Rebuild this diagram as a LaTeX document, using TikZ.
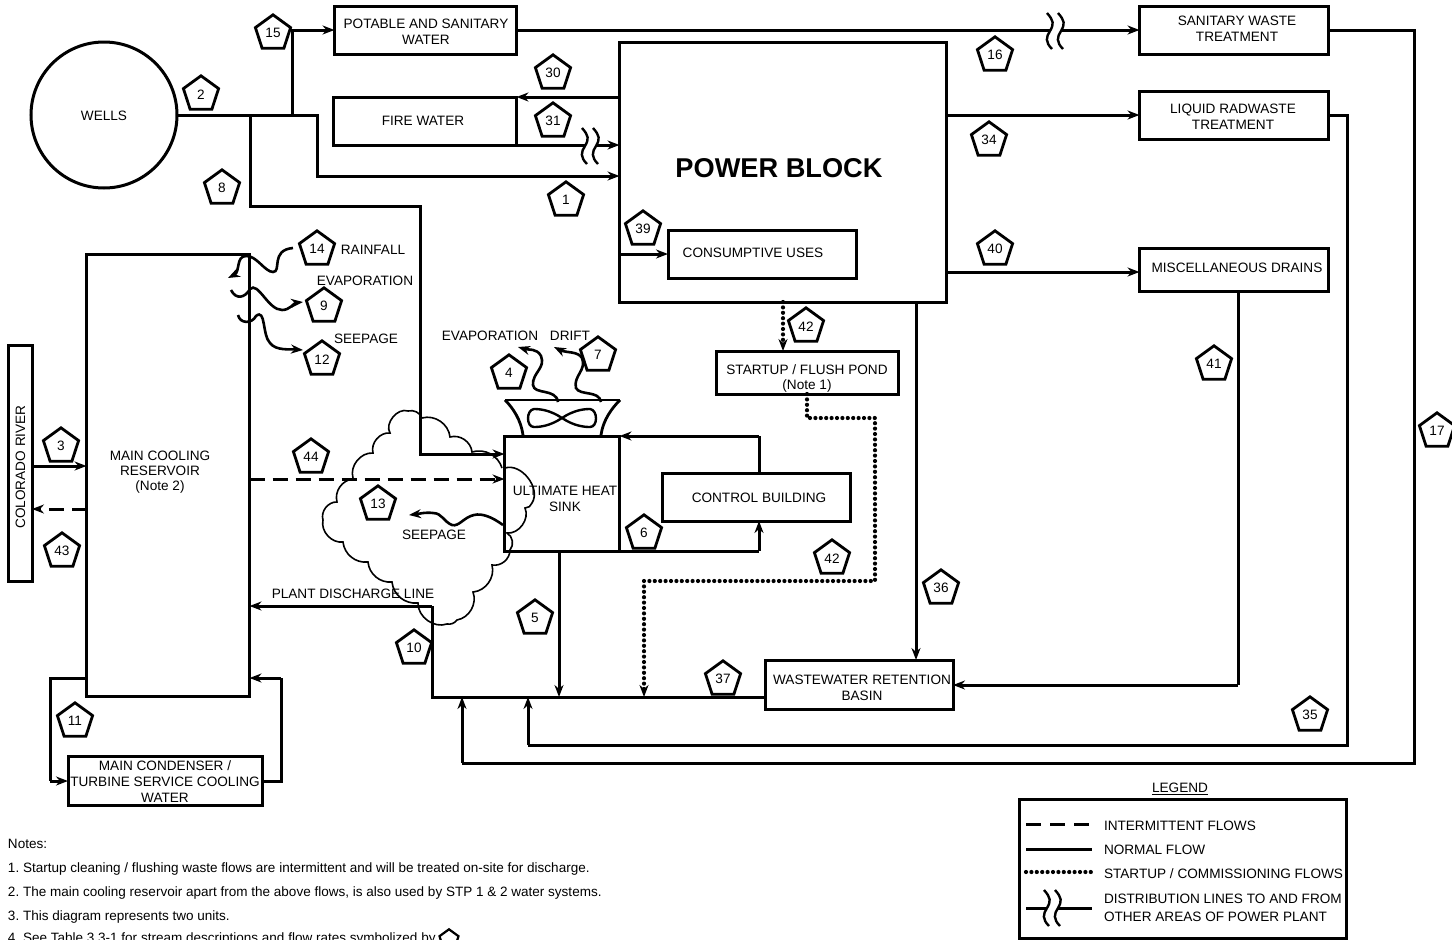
\documentclass[tikz,border=0pt]{standalone}
\usepackage{fontspec}
\setmainfont{Liberation Sans}
\frenchspacing
\usetikzlibrary{arrows.meta,shapes.geometric}
\tikzset{
  x=1pt,y=-1pt,
  ln/.style={line width=3pt,line join=miter},
  box/.style={ln,draw,fill=none,rectangle,inner sep=0pt,outer sep=0pt,align=center,font=\fontsize{13.6}{16}\selectfont},
  lbl/.style={inner sep=0pt,outer sep=0pt,align=center,yshift=-1pt,font=\fontsize{13.6}{16}\selectfont},
  flow/.style={ln,-{Stealth[length=12pt,width=9pt]}},
  plain/.style={ln},
  dashflow/.style={ln,dash pattern=on 15pt off 8pt,-{Stealth[length=12pt,width=9pt]}},
  dotflow/.style={line width=4.2pt,line cap=round,dash pattern=on 0pt off 5.4pt,-{Stealth[length=12pt,width=9pt]}},
  wave/.style={line width=2.6pt,-{Stealth[length=12pt,width=9pt]}},
  penta/.style={draw,line width=2.8pt,regular polygon,regular polygon sides=5,minimum size=37pt,inner sep=0pt,outer sep=0pt,fill=white,yshift=-0.3pt,font=\fontsize{13.6}{14}\selectfont},
  cloudline/.style={line width=1.6pt},
  note/.style={inner sep=0pt,outer sep=0pt,anchor=base west,font=\fontsize{13.52}{15}\selectfont},
  brk/.pic={
    \fill[white] (-5,-3.5) rectangle (6,3.5);
    \draw[line width=2.4pt] (-8,-18) .. controls (-1,-10) and (-1,-7) .. (-5,0) .. controls (-9,6) and (-10,11) .. (-3,18);
    \draw[line width=2.4pt] (3,-18) .. controls (10,-10) and (10,-7) .. (6,0) .. controls (2,6) and (1,11) .. (8,18);
  }
}
\begin{document}
\begin{tikzpicture}
\path[use as bounding box] (0,0) rectangle (1452,940);
\clip (0,0) rectangle (1452,940);
% boxes
\node[box,circle,minimum size=146pt] (wells) at (104,115) {};
\node[lbl] (wellsT) at (104,115) {WELLS};
\node[box,minimum width=182pt,minimum height=48pt] (potable) at (425.5,30) {};
\node[lbl] (potableT) at (426,31) {POTABLE AND SANITARY\\WATER};
\node[box,minimum width=183pt,minimum height=48pt] (fire) at (425,121) {};
\node[lbl] (fireT) at (423,120) {FIRE WATER};
\node[box,minimum width=327pt,minimum height=260pt] (power) at (783,172) {};
\node[lbl,font=\bfseries\fontsize{27.2}{30}\selectfont] (powerT) at (779,167) {POWER BLOCK};
\node[box,minimum width=188pt,minimum height=48pt] (cons) at (762,254) {};
\node[lbl] (consT) at (753,252) {CONSUMPTIVE USES};
\node[box,minimum width=189pt,minimum height=48pt] (sanitary) at (1234,30) {};
\node[lbl] (sanitaryT) at (1237,28) {SANITARY WASTE\\TREATMENT};
\node[box,minimum width=189pt,minimum height=48pt] (liquid) at (1234,115) {};
\node[lbl] (liquidT) at (1233,115.5) {LIQUID RADWASTE\\TREATMENT};
\node[box,minimum width=189pt,minimum height=43pt] (misc) at (1234,269.5) {};
\node[lbl] (miscT) at (1237,266.5) {MISCELLANEOUS DRAINS};
\node[box,minimum width=182pt,minimum height=43pt] (startup) at (807,372.5) {};
\node[lbl] (startupT) at (807,377.5) {STARTUP / FLUSH POND\\[-1pt](Note 1)};
\node[box,minimum width=163pt,minimum height=442pt] (main) at (168,475) {};
\node[lbl,font=\fontsize{13.6}{15}\selectfont] (mainT) at (160,471.5) {MAIN COOLING\\RESERVOIR\\(Note 2)};
\node[box,minimum width=24pt,minimum height=236pt] (river) at (20,463) {};
\node[lbl,rotate=90,yshift=0pt] (riverT) at (20.5,466) {COLORADO RIVER};
\node[box,minimum width=115pt,minimum height=115pt] (uhs) at (562,493.5) {};
\node[lbl] (uhsT) at (565,498) {ULTIMATE HEAT\\SINK};
\node[box,minimum width=188pt,minimum height=48pt] (control) at (756,497) {};
\node[lbl] (controlT) at (759,496.5) {CONTROL BUILDING};
\node[box,minimum width=188pt,minimum height=49pt] (ww) at (859,684.5) {};
\node[lbl] (wwT) at (862,687) {WASTEWATER RETENTION\\BASIN};
\node[box,minimum width=194pt,minimum height=49pt] (cond) at (165,781) {};
\node[lbl] (condT) at (165,781) {MAIN CONDENSER /\\TURBINE SERVICE COOLING\\WATER};
% junctions
\coordinate (j1) at (317,115);
\coordinate (j2) at (292,115);
\coordinate (j3) at (250,115);
\coordinate (j4) at (250,206);
\coordinate (j5) at (420,206);
\coordinate (j6) at (420,454);
\coordinate (jS1) at (1414,30);
\coordinate (jS2) at (1414,763);
\coordinate (jS3) at (462,763);
\coordinate (jL1) at (1347,115);
\coordinate (jL2) at (1347,745);
\coordinate (jL3) at (528,745);
\coordinate (jB1) at (432,697);
\coordinate (jB2) at (432,606);
\coordinate (jB3) at (559,697);
\coordinate (jB4) at (462,697);
\coordinate (jB5) at (528,697);
\coordinate (jB6) at (644,697);
\coordinate (jD1) at (807,418);
\coordinate (jD2) at (875,418);
\coordinate (jD3) at (875,581);
\coordinate (jD4) at (644,581);
\coordinate (jC1) at (759,436);
\coordinate (jC2) at (759,551);
\coordinate (jM1) at (50,678);
\coordinate (jM2) at (50,781);
\coordinate (jM3) at (281,781);
\coordinate (jM4) at (281,678);
\coordinate (jV) at (1238,685);
% water supply
\draw[flow] (wells.east) -- (j1) -- (j1 |- 0,176) -- (power.west |- 0,176);
\draw[flow] (j2) -- (j2 |- potable.west) -- (potable.west);
\draw[flow] (j3) -- (j4) -- (j5) -- (j6) -- (uhs.west |- j6);
\draw[flow] (potable.east) -- (sanitary.west);
\draw[plain] (sanitary.east) -- (jS1) -- (jS2) -- (jS3);
\draw[flow] (jS3) -- (jB4);
\draw[flow] (power.west |- fire.155) -- (fire.east |- fire.155);
\draw[flow] (fire.south east) -- (power.west |- fire.south);
\draw[flow] (power.east |- liquid.west) -- (liquid.west);
\draw[plain] (liquid.east) -- (jL1) -- (jL2) -- (jL3);
\draw[flow] (jL3) -- (jB5);
\draw[flow] (power.east |- 0,272) -- (misc.west |- 0,272);
\draw[plain] (misc.south -| jV) -- (jV);
\draw[flow] (jV) -- (ww.east |- jV);
\draw[flow] (power.south -| 916,0) -- (ww.north -| 916,0);
\draw[flow] (power.west |- cons.west) -- (cons.west);
\draw[dotflow] (power.south -| 783,0) -- (startup.north -| 783,0);
\draw[dotflow] (startup.south -| jD1) -- (jD1) -- (jD2) -- (jD3) -- (jD4) -- (jB6);
\draw[plain] (ww.west |- jB1) -- (jB1) -- (jB2);
\draw[flow] (jB2) -- (main.east |- jB2);
\draw[flow] (uhs.south -| jB3) -- (jB3);
\draw[plain] (control.north -| jC1) -- (jC1);
\draw[flow] (jC1) -- (uhs.north east);
\draw[plain] (uhs.south east) -- (jC2);
\draw[flow] (jC2) -- (control.south -| jC2);
\draw[plain] (main.west |- jM1) -- (jM1) -- (jM2);
\draw[flow] (jM2) -- (cond.west |- jM2);
\draw[plain] (cond.east |- jM3) -- (jM3) -- (jM4);
\draw[flow] (jM4) -- (main.east |- jM4);
\draw[flow] (river.east |- 0,466) -- (main.west |- 0,466);
\draw[dashflow] (main.west |- 0,509) -- (river.east |- 0,509);
\draw[dashflow] (main.east |- 0,479) -- (uhs.west |- 0,479);
% breaks
\pic at (590,146) {brk};
\pic at (1055,31) {brk};
% reservoir waves
\draw[wave] (293,248) .. controls (270,250) and (282,272) .. (273,272) .. controls (265,272) and (256,255) .. (246,256) .. controls (236,256) and (240,272) .. (228,278);
\draw[wave] (231,290) .. controls (236,300) and (245,298) .. (250,289) .. controls (258,281) and (268,310) .. (282,310) .. controls (290,310) and (294,303) .. (303,302);
\draw[wave] (238,315) .. controls (240,324) and (252,324) .. (256,316) .. controls (266,308) and (262,335) .. (270,343) .. controls (276,351) and (290,349) .. (303,350);
% tower waves
\draw[wave] (558,402) .. controls (556,388) and (534,395) .. (533,385) .. controls (532,373) and (546,368) .. (541,356) .. controls (537,348) and (528,350) .. (518,347);
\draw[wave] (601,402) .. controls (599,390) and (580,396) .. (576,388) .. controls (573,376) and (587,370) .. (582,358) .. controls (578,351) and (566,353) .. (554,347);
% seepage wave
\draw[wave] (503,525) .. controls (492,517) and (482,513) .. (474,515) .. controls (464,517) and (459,527) .. (452,525) .. controls (444,522) and (442,513) .. (433,513) .. controls (425,512) and (418,514) .. (409,515);
% tower
\draw[line width=2.8pt] (505,400) -- (620,400);
\draw[line width=2.8pt] (505,400) .. controls (513,408) and (521,420) .. (523,435);
\draw[line width=2.8pt] (620,400) .. controls (612,408) and (603,420) .. (601,435);
\draw[line width=2.4pt] (562,418) .. controls (550,410) and (540,409) .. (534,409) .. controls (526,410) and (526,427) .. (534,427) .. controls (540,427) and (550,426) .. (562,418) .. controls (574,410) and (584,409) .. (590,409) .. controls (598,410) and (598,427) .. (590,427) .. controls (584,427) and (574,426) .. (562,418);
% cloud
\draw[cloudline] (353,478) to[bend left=55] (373,453) to[bend left=55] (390,433) to[bend left=70] (408,411) to[bend left=40] (422,418) to[bend left=50] (450,437) to[bend left=50] (472,452) to[bend left=45] (502,468);
\draw[cloudline] (505,468) to[bend left=70] (532,503) to[bend left=35] (525,508) to[bend left=60] (507,533) to[bend left=50] (510,550) to[bend left=50] (492,565) to[bend left=50] (473,592) to[bend left=50] (457,620) to[bend left=30] (447,624) to[bend left=55] (418,603) to[bend left=45] (392,582) to[bend left=45] (368,562) to[bend left=45] (343,542) to[bend left=55] (323,520) to[bend left=55] (337,502) to[bend left=50] (353,479);
% labels
\node[lbl] (l14) at (373,249) {RAINFALL};
\node[lbl] (l9) at (365,280) {EVAPORATION};
\node[lbl] (l12) at (366,338) {SEEPAGE};
\node[lbl] (l4) at (490,335) {EVAPORATION};
\node[lbl] (l7) at (570,335) {DRIFT};
\node[lbl] (l13) at (434,534) {SEEPAGE};
\node[lbl] (l10) at (353,593) {PLANT DISCHARGE LINE};
% pentagons
\foreach \nm/\tx/\px/\py in {p15/15/273/33,p2/2/201/94,p8/8/222/188,p14/14/317/249,p9/9/324/306,p12/12/322/359,p30/30/553/73,p31/31/553/121,p1/1/566/200,p39/39/643/229,p42a/42/806/326,p16/16/995/55,p34/34/989/140,p40/40/995/249,p41/41/1214/364,p17/17/1437/431,p36/36/941/588,p42b/42/832/558,p37/37/723/679,p35/35/1310/715,p6/6/644/533,p5/5/535/618,p4/4/509/373,p7/7/598/355,p44/44/311/457,p13/13/378/504,p3/3/61/446,p43/43/62/551,p10/10/414/648,p11/11/75/721}
  \node[penta] (\nm) at (\px,\py) {\tx};
% legend
\node[lbl,yshift=1pt] (legT) at (1180,788.5) {\underline{LEGEND}};
\node[box,minimum width=327pt,minimum height=139pt] (leg) at (1183,868.5) {};
\coordinate (a1) at (1026,824); \coordinate (a2) at (1092,824);
\coordinate (b1) at (1026,849); \coordinate (b2) at (1092,849);
\coordinate (c1) at (1026,872); \coordinate (c2) at (1092,872);
\coordinate (d1) at (1026,908); \coordinate (d2) at (1092,908);
\draw[ln,dash pattern=on 15pt off 9pt] (a1) -- (a2);
\draw[ln] (b1) -- (b2);
\draw[line width=4.2pt,line cap=round,dash pattern=on 0pt off 5.4pt] (c1) -- (c2);
\draw[ln] (d1) -- (d2);
\pic at (1052,908) {brk};
\node[lbl,anchor=west] (t1) at (1104,825) {INTERMITTENT FLOWS};
\node[lbl,anchor=west] (t2) at (1104,849) {NORMAL FLOW};
\node[lbl,anchor=west] (t3) at (1104,873) {STARTUP / COMMISSIONING FLOWS};
\node[lbl,anchor=west,align=left,font=\fontsize{13.6}{18}\selectfont] (t4) at (1104,907) {DISTRIBUTION LINES TO AND FROM\\OTHER AREAS OF POWER PLANT};
% notes
\node[note] (n0) at (8,848.5) {Notes:};
\node[note] (n1) at (8,872.5) {1. Startup cleaning / flushing waste flows are intermittent and will be treated on-site for discharge.};
\node[note] (n2) at (8,896.5) {2. The main cooling reservoir apart from the above flows, is also used by STP 1 \& 2 water systems.};
\node[note] (n3) at (8,920.5) {3. This diagram represents two units.};
\node[note] (n4) at (8,942.5) {4. See Table 3.3-1 for stream descriptions and flow rates symbolized by};
\node[penta,minimum size=20pt,line width=2.2pt] (psmall) at (449,939) {};
\end{tikzpicture}
\end{document}
